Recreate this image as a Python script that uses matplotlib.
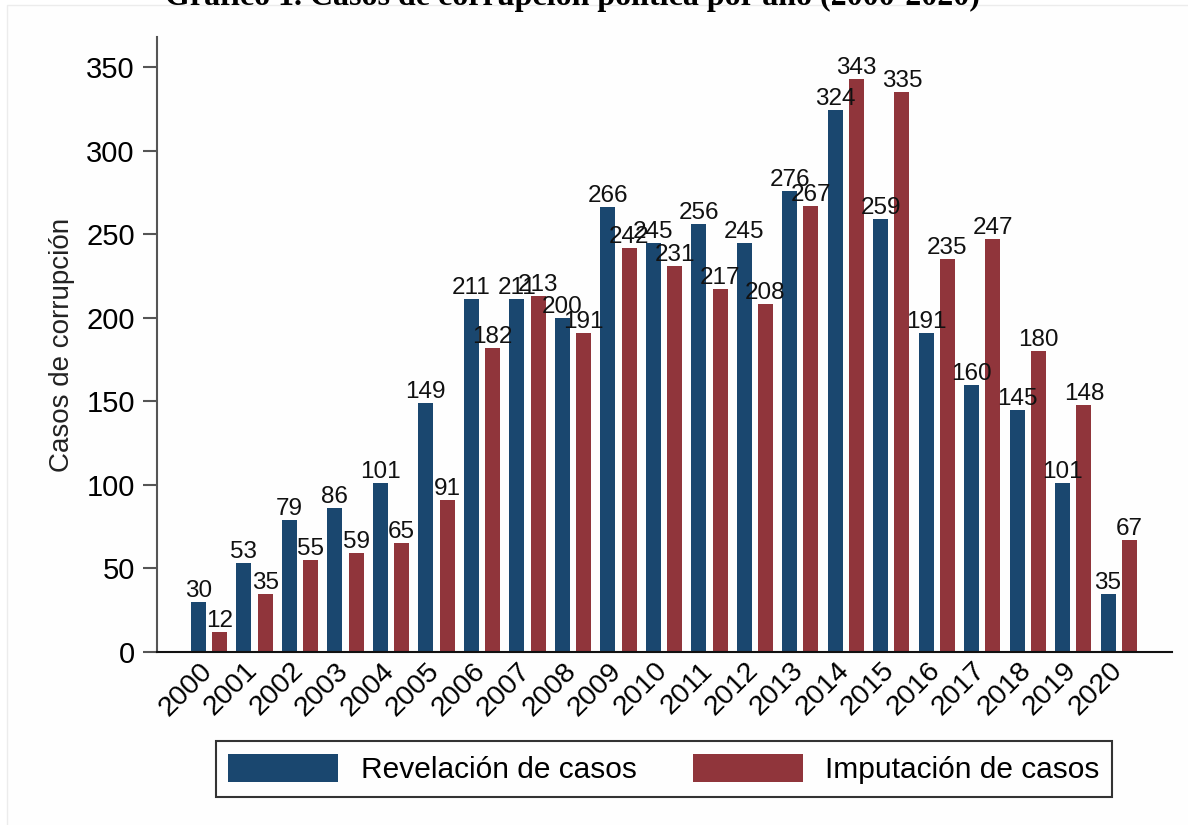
"""
Gráfico 1. Casos de corrupción política por año (2000-2020)
"""
import numpy as np
import matplotlib
matplotlib.use('Agg')
import matplotlib.pyplot as plt
import matplotlib.transforms as mtransforms
from matplotlib.patches import Rectangle

years = [str(y) for y in range(2000, 2021)]
revelacion = [30, 53, 79, 86, 101, 149, 211, 211, 200, 266, 245,
              256, 245, 276, 324, 259, 191, 160, 145, 101, 35]
imputacion = [12, 35, 55, 59, 65, 91, 182, 213, 191, 242, 231,
              217, 208, 267, 343, 335, 235, 247, 180, 148, 67]
yticks = [0, 50, 100, 150, 200, 250, 300, 350]

azul = '#1a476f'
rojo = '#90353b'

plt.rcParams['font.family'] = ['Liberation Sans', 'DejaVu Sans']

fig = plt.figure(figsize=(11.88, 8.25), dpi=100)

# marco muy tenue del área del gráfico (como en la captura original)
fig.add_artist(Rectangle((7 / 1188, -0.01), 1.02, 1 - 5 / 825 + 0.01,
                         transform=fig.transFigure, facecolor='#fefefe',
                         edgecolor='#ececec', linewidth=1, zorder=0))

ax = fig.add_axes([0.1322, 0.2097, 0.8543, 0.7455])
ax.patch.set_alpha(0)

x = np.arange(len(years))
w = 0.33
off = 0.235
b1 = ax.bar(x - off, revelacion, w, color=azul, label='Revelación de casos')
b2 = ax.bar(x + off, imputacion, w, color=rojo, label='Imputación de casos')

# etiquetas sobre las barras
for bars in (b1, b2):
    ax.bar_label(bars, padding=0, fontsize=17.5, color='#111111')

ax.set_xlim(-1.14, 21.17)
ax.set_ylim(0, 368)
ax.set_yticks(yticks)
ax.set_xticks(x)
ax.set_xticklabels(years, rotation=45, ha='right', va='top',
                   rotation_mode='anchor', fontsize=20.5)
ax.tick_params(axis='x', length=0, pad=4)
ax.tick_params(axis='y', labelsize=21, length=10, width=1.5, color='#555555', pad=6)
ax.set_ylabel('Casos de corrupción', fontsize=20, labelpad=8, color='#222222')

# desplazar los años un poco a la izquierda
shift = mtransforms.ScaledTranslation(-10 / 100, 0, fig.dpi_scale_trans)
for lab in ax.get_xticklabels():
    lab.set_transform(lab.get_transform() + shift)

for s in ('top', 'right'):
    ax.spines[s].set_visible(False)
ax.spines['left'].set_color('#555555')
ax.spines['left'].set_linewidth(1.5)
ax.spines['bottom'].set_color('#111111')
ax.spines['bottom'].set_linewidth(1.5)

leg = fig.legend(handles=[b1, b2], loc='center', bbox_to_anchor=(0.559, 0.068),
                 ncol=2, fontsize=21.5, frameon=True, fancybox=False,
                 handlelength=3.68, handleheight=1.07, handletextpad=0.75,
                 columnspacing=1.9, borderpad=0.42)
leg.get_frame().set_edgecolor('black')
leg.get_frame().set_linewidth(1.5)

# título recortado en la parte superior, como en la imagen original
fig.text(0.4815, 1 - 5 / 825, 'Gráfico 1. Casos de corrupción política por año (2000-2020)',
         ha='center', va='baseline', fontsize=23, fontweight='bold',
         family=['Liberation Serif', 'DejaVu Serif'])

fig.savefig('out.png', dpi=100)
